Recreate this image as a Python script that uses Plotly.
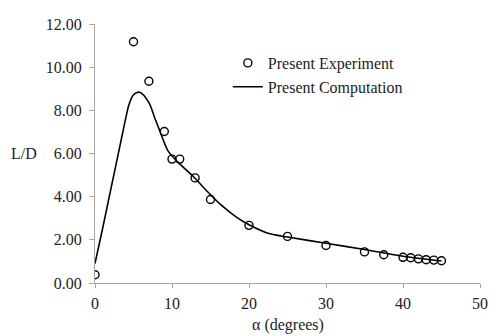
import plotly.graph_objects as go

# Experimental data (alpha in degrees, L/D)
exp_alpha = [0, 5, 7, 9, 10, 11, 13, 15, 20, 25, 30, 35, 37.5, 40, 41, 42, 43, 44, 45]
exp_ld = [0.38, 11.18, 9.35, 7.02, 5.74, 5.74, 4.87, 3.87, 2.67, 2.16, 1.74, 1.44, 1.31, 1.19, 1.17, 1.12, 1.08, 1.06, 1.03]

# Computation curve
comp_alpha = [0, 1, 2, 3, 3.5, 4, 4.4, 5, 5.8, 7.0, 7.8, 8.45, 9.5, 10.8, 12.8, 14.4, 16.3, 18.4, 20, 22.6, 25, 30, 35, 40, 45]
comp_ld = [0.9, 2.55, 4.25, 5.95, 6.8, 7.65, 8.25, 8.72, 8.84, 8.36, 7.61, 7.01, 6.11, 5.59, 4.92, 4.31, 3.64, 3.04, 2.70, 2.29, 2.13, 1.84, 1.55, 1.24, 1.02]

x_ticks = [0, 10, 20, 30, 40, 50]
y_ticks = [0, 2, 4, 6, 8, 10, 12]

FONT = "Liberation Serif"
TXT = "#222222"
AX = "#a6a6a6"
FS = 16

fig = go.Figure()
fig.add_trace(go.Scatter(
    x=exp_alpha, y=exp_ld, mode="markers", name="Present Experiment",
    legendgroup="a",
    marker=dict(symbol="circle-open", size=8, color="black", line=dict(width=1.4, color="black")),
))
fig.add_trace(go.Scatter(
    x=comp_alpha, y=comp_ld, mode="lines", name="Present Computation",
    legendgroup="b",
    line=dict(color="black", width=1.6, shape="spline", smoothing=0.8),
))

# the page body adds an 8px offset; figure is sized to fill the rest of the window
fig.update_layout(
    width=488, height=328,
    margin=dict(l=87, r=8, t=8, b=53),
    paper_bgcolor="white", plot_bgcolor="white",
    font=dict(family=FONT, size=FS, color=TXT),
    showlegend=True,
    legend=dict(x=0.345, y=0.915, xanchor="left", yanchor="top",
                bgcolor="rgba(0,0,0,0)", font=dict(family=FONT, size=FS, color=TXT),
                traceorder="grouped", tracegroupgap=0),
    xaxis=dict(range=[0, 50], tickvals=x_ticks, showgrid=False, zeroline=False,
               showline=True, linecolor=AX, linewidth=1.2,
               ticks="outside", ticklen=4, tickcolor=AX, tickwidth=1.2,
               ticklabelstandoff=2,
               tickfont=dict(family=FONT, size=FS, color=TXT)),
    yaxis=dict(range=[0, 12], tickvals=y_ticks, tickformat=".2f", showgrid=False, zeroline=False,
               showline=True, linecolor=AX, linewidth=1.2,
               ticks="outside", ticklen=5, tickcolor=AX, tickwidth=1.2,
               ticklabelstandoff=4, ticklabeloverflow="allow",
               tickfont=dict(family=FONT, size=FS, color=TXT)),
    annotations=[
        dict(text="L/D", xref="paper", yref="paper", x=(22.5 - 95) / 393, y=(282.7 - 149.7) / 267,
             xanchor="center", yanchor="middle", showarrow=False,
             font=dict(family=FONT, size=FS, color=TXT)),
        dict(text="α (degrees)", xref="paper", yref="paper", x=0.5, y=(282.7 - 325.5) / 267,
             xanchor="center", yanchor="middle", showarrow=False,
             font=dict(family=FONT, size=FS, color=TXT)),
    ],
)

fig.write_html("out.html")
